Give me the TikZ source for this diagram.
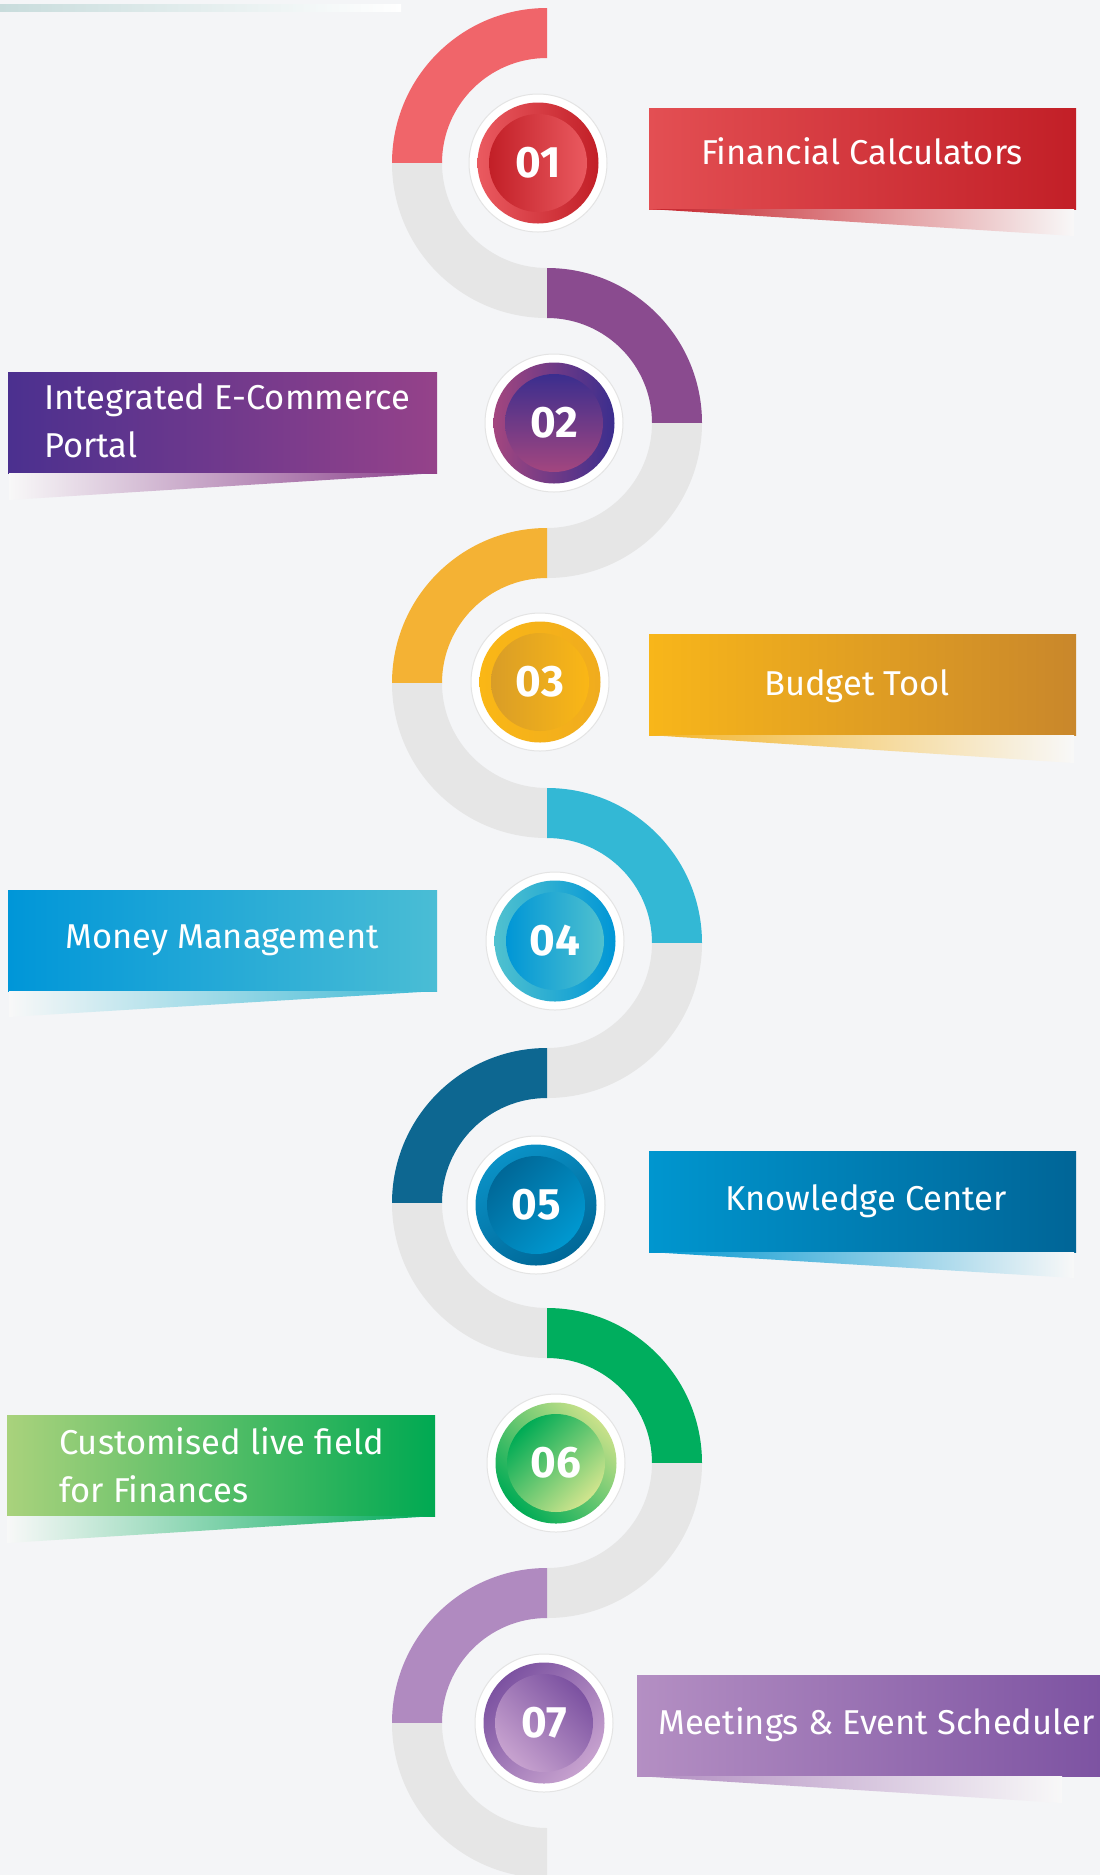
\documentclass[tikz,border=0pt]{standalone}
\usepackage{fontspec}
\setmainfont{Fira Sans}
\definecolor{bg}{HTML}{F4F5F7}
\definecolor{arcgrey}{HTML}{E6E6E6}
\definecolor{ringgrey}{HTML}{E4E4E4}
\definecolor{arcA}{HTML}{F0656A}
\definecolor{arcB}{HTML}{8A4B8F}
\definecolor{arcC}{HTML}{F4B234}
\definecolor{arcD}{HTML}{33B8D5}
\definecolor{arcE}{HTML}{0D6791}
\definecolor{arcF}{HTML}{00AE5E}
\definecolor{arcG}{HTML}{B08AC0}
% strip
\definecolor{stripL}{HTML}{C8DCDC}
\definecolor{stripM}{HTML}{7ACCC8}
% circle colours
\definecolor{rLight}{HTML}{EA5A60}
\definecolor{rDark}{HTML}{C21F27}
\definecolor{pPink}{HTML}{A3467F}
\definecolor{pIndigo}{HTML}{3B2E8E}
\definecolor{yBright}{HTML}{FAB716}
\definecolor{yMid}{HTML}{F0AC1E}
\definecolor{yDark}{HTML}{D99D27}
\definecolor{cTeal}{HTML}{50C1CF}
\definecolor{cBlue}{HTML}{0096D6}
\definecolor{bLight}{HTML}{0A91C6}
\definecolor{bDark}{HTML}{006898}
\definecolor{bLight2}{HTML}{0098D0}
\definecolor{gLight}{HTML}{C9E18A}
\definecolor{gDark}{HTML}{00AB55}
\definecolor{gLight2}{HTML}{D2E58E}
\definecolor{vDark}{HTML}{7C52A1}
\definecolor{vLight}{HTML}{C7A2CF}
% label colours
\definecolor{l1a}{HTML}{E34F53}
\definecolor{l1b}{HTML}{C21F27}
\definecolor{l2a}{HTML}{4B308F}
\definecolor{l2b}{HTML}{95428A}
\definecolor{l3a}{HTML}{F8B61A}
\definecolor{l3b}{HTML}{C9872B}
\definecolor{l4a}{HTML}{0096D8}
\definecolor{l4m}{HTML}{02ABD9}
\definecolor{l4b}{HTML}{4ABDD5}
\definecolor{l5a}{HTML}{0096CF}
\definecolor{l5b}{HTML}{006597}
\definecolor{l6a}{HTML}{A9D27C}
\definecolor{l6m}{HTML}{62BA64}
\definecolor{l6b}{HTML}{00A952}
\definecolor{l7a}{HTML}{B48FC3}
\definecolor{l7b}{HTML}{7D53A2}
% tail colours
\definecolor{t1a}{HTML}{C52028}
\definecolor{t1m}{HTML}{DE9484}
\definecolor{t2a}{HTML}{8A3F8B}
\definecolor{t2m}{HTML}{C3A6C9}
\definecolor{t3a}{HTML}{F3B52B}
\definecolor{t3m}{HTML}{F6D6A0}
\definecolor{t4a}{HTML}{3AB8D4}
\definecolor{t4m}{HTML}{A8D8E6}
\definecolor{t5a}{HTML}{0096D0}
\definecolor{t5m}{HTML}{8FBFE0}
\definecolor{t6a}{HTML}{00AA5A}
\definecolor{t6m}{HTML}{9ED2B0}
\definecolor{t7a}{HTML}{B08BC0}
\definecolor{t7m}{HTML}{D6C2DF}
\definecolor{tailend}{HTML}{F8F8F8}
\begin{document}
\begin{tikzpicture}[x=1pt,y=-1pt,
  lab/.style={text=white, inner sep=0pt, font=\fontsize{34.5}{40}\selectfont},
  labtwo/.style={text=white, inner sep=0pt, align=left, font=\fontsize{34.5}{48}\selectfont},
  num/.style={text=white, inner sep=0pt, font=\bfseries\fontsize{44}{44}\selectfont},
  whitedisc/.style={circle, fill=white, draw=ringgrey, line width=1pt, minimum size=138pt, inner sep=0pt},
  outerdisc/.style={circle, minimum size=121pt, inner sep=0pt},
  innerdisc/.style={circle, minimum size=98pt, inner sep=0pt},
  labbox/.style={rectangle, minimum width=427pt, minimum height=101pt, inner sep=0pt, anchor=north west},
]
\fill[bg] (0,0) rectangle (1100,1875);
\useasboundingbox (0,0) rectangle (1100,1875);

% top strip
\shade[left color=stripL, middle color=stripM, right color=white] (0,4) rectangle (401,11);

% S-curve bands
% 1 (left)
\fill[arcA] (547,8) arc[start angle=270,end angle=180,radius=155] -- (442,163) arc[start angle=180,end angle=270,radius=105] -- cycle;
\fill[arcgrey] (392,163) arc[start angle=180,end angle=90,radius=155] -- (547,268) arc[start angle=90,end angle=180,radius=105] -- cycle;
% 2 (right)
\fill[arcB] (547,268) arc[start angle=-90,end angle=0,radius=155] -- (652,423) arc[start angle=0,end angle=-90,radius=105] -- cycle;
\fill[arcgrey] (702,423) arc[start angle=0,end angle=90,radius=155] -- (547,528) arc[start angle=90,end angle=0,radius=105] -- cycle;
% 3 (left)
\fill[arcC] (547,528) arc[start angle=270,end angle=180,radius=155] -- (442,683) arc[start angle=180,end angle=270,radius=105] -- cycle;
\fill[arcgrey] (392,683) arc[start angle=180,end angle=90,radius=155] -- (547,788) arc[start angle=90,end angle=180,radius=105] -- cycle;
% 4 (right)
\fill[arcD] (547,788) arc[start angle=-90,end angle=0,radius=155] -- (652,943) arc[start angle=0,end angle=-90,radius=105] -- cycle;
\fill[arcgrey] (702,943) arc[start angle=0,end angle=90,radius=155] -- (547,1048) arc[start angle=90,end angle=0,radius=105] -- cycle;
% 5 (left)
\fill[arcE] (547,1048) arc[start angle=270,end angle=180,radius=155] -- (442,1203) arc[start angle=180,end angle=270,radius=105] -- cycle;
\fill[arcgrey] (392,1203) arc[start angle=180,end angle=90,radius=155] -- (547,1308) arc[start angle=90,end angle=180,radius=105] -- cycle;
% 6 (right)
\fill[arcF] (547,1308) arc[start angle=-90,end angle=0,radius=155] -- (652,1463) arc[start angle=0,end angle=-90,radius=105] -- cycle;
\fill[arcgrey] (702,1463) arc[start angle=0,end angle=90,radius=155] -- (547,1568) arc[start angle=90,end angle=0,radius=105] -- cycle;
% 7 (left)
\fill[arcG] (547,1568) arc[start angle=270,end angle=180,radius=155] -- (442,1723) arc[start angle=180,end angle=270,radius=105] -- cycle;
\fill[arcgrey] (392,1723) arc[start angle=180,end angle=90,radius=155] -- (547,1828) arc[start angle=90,end angle=180,radius=105] -- cycle;

% circles
\node[whitedisc] (w1) at (538,163) {};
\node[outerdisc, left color=rLight, right color=rDark] (o1) at (538,163) {};
\node[innerdisc, left color=rDark, right color=rLight] (n1) at (538,163) {};
\node[num] (t1) at (538,163) {01};

\node[whitedisc] (w2) at (554,423) {};
\node[outerdisc, left color=pPink, right color=pIndigo] (o2) at (554,423) {};
\node[innerdisc, top color=pIndigo, bottom color=pPink] (n2) at (554,423) {};
\node[num] (t2) at (554,423) {02};

\node[whitedisc] (w3) at (540,682) {};
\node[outerdisc, left color=yBright, right color=yMid] (o3) at (540,682) {};
\node[innerdisc, left color=yDark, right color=yBright] (n3) at (540,682) {};
\node[num] (t3) at (540,682) {03};

\node[whitedisc] (w4) at (555,941) {};
\node[outerdisc, left color=cTeal, right color=cBlue] (o4) at (555,941) {};
\node[innerdisc, left color=cBlue, right color=cTeal] (n4) at (555,941) {};
\node[num] (t4) at (555,941) {04};

\node[whitedisc] (w5) at (536,1205) {};
\node[outerdisc, top color=bLight, bottom color=bDark, shading angle=30] (o5) at (536,1205) {};
\node[innerdisc, top color=bDark, bottom color=bLight2, shading angle=45] (n5) at (536,1205) {};
\node[num] (t5) at (536,1205) {05};

\node[whitedisc] (w6) at (556,1463) {};
\node[outerdisc, top color=gLight, bottom color=gDark, shading angle=-45] (o6) at (556,1463) {};
\node[innerdisc, top color=gDark, bottom color=gLight2, shading angle=45] (n6) at (556,1463) {};
\node[num] (t6) at (556,1463) {06};

\node[whitedisc] (w7) at (544,1723) {};
\node[outerdisc, top color=vDark, bottom color=vLight, shading angle=45] (o7) at (544,1723) {};
\node[innerdisc, top color=vDark, bottom color=vLight, shading angle=-45] (n7) at (544,1723) {};
\node[num] (t7) at (544,1723) {07};

% label boxes
\node[labbox, left color=l1a, right color=l1b] (b1) at (649,108) {};
\node[labbox, minimum width=429pt, left color=l2a, right color=l2b] (b2) at (8,372) {};
\node[labbox, left color=l3a, right color=l3b] (b3) at (649,634) {};
\node[labbox, minimum width=429pt, left color=l4a, middle color=l4m, right color=l4b] (b4) at (8,890) {};
\node[labbox, left color=l5a, right color=l5b] (b5) at (649,1151) {};
\node[labbox, minimum width=428pt, left color=l6a, middle color=l6m, right color=l6b] (b6) at (7,1415) {};
\node[labbox, minimum width=463pt, left color=l7a, right color=l7b] (b7) at (637,1675) {};

% tails
\shade[left color=t1a, middle color=t1m, right color=tailend] (649,209) -- (1074,209) -- (1074,236) -- cycle;
\shade[left color=tailend, middle color=t2m, right color=t2a] (437,473) -- (9,473) -- (9,500) -- cycle;
\shade[left color=t3a, middle color=t3m, right color=tailend] (649,735) -- (1074,735) -- (1074,763) -- cycle;
\shade[left color=tailend, middle color=t4m, right color=t4a] (437,991) -- (9,991) -- (9,1017) -- cycle;
\shade[left color=t5a, middle color=t5m, right color=tailend] (649,1252) -- (1074,1252) -- (1074,1278) -- cycle;
\shade[left color=tailend, middle color=t6m, right color=t6a] (435,1516) -- (7,1516) -- (7,1543) -- cycle;
\shade[left color=t7a, middle color=t7m, right color=tailend] (637,1776) -- (1062,1776) -- (1062,1803) -- cycle;

% label texts
\node[lab, anchor=base] (x1) at (862,164) {Financial Calculators};
\node[labtwo, anchor=base west] (x2) at (44,457) {Integrated E-Commerce\\Portal};
\node[lab, anchor=base] (x3) at (857,695) {Budget Tool};
\node[lab, anchor=base] (x4) at (222,948) {Money Management};
\node[lab, anchor=base] (x5) at (866,1210) {Knowledge Center};
\node[labtwo, anchor=base west] (x6) at (59,1502) {Customised live field\\for Finances};
\node[lab, anchor=base west] (x7) at (658,1734) {Meetings \& Event Scheduler};
\end{tikzpicture}
\end{document}
